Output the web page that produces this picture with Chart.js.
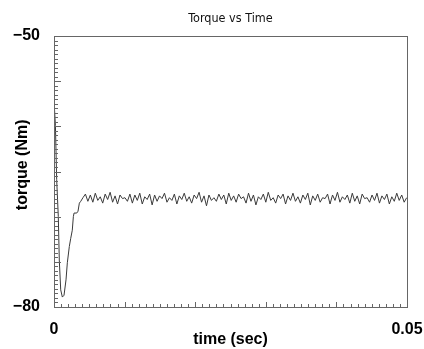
<!DOCTYPE html>
<html>
<head>
<meta charset="utf-8">
<script src="https://cdn.jsdelivr.net/npm/chart.js@4/dist/chart.umd.min.js"></script>
<style>
  body { margin: 0; background: #fff; }
  canvas { display: block; }
</style>
</head>
<body>
<canvas id="chart" width="424" height="349"></canvas>
<script>
// start-up transient (time in sec, torque in Nm)
const transientTime = [0, 0.00004, 0.0002, 0.00038, 0.00061, 0.00075, 0.00095, 0.00118, 0.00142, 0.0017,
  0.00189, 0.00217, 0.00237, 0.00259, 0.00274, 0.00284, 0.00322, 0.0034, 0.00359, 0.00379];
const transientTorque = [-57.1, -57.1, -59.9, -65.9, -70.0, -74.8, -78.1, -78.9, -78.7, -77.0,
  -75.1, -73.3, -72.4, -71.5, -70.0, -69.6, -69.6, -69.4, -68.5, -68.3];

// steady-state ripple, sampled every sampleStep seconds from noiseStart
const noiseStart = 0.0041;
const sampleStep = 0.00035;
const noiseTorque = [
  -67.9, -67.5, -68.3, -67.6, -68.4, -67.4, -68.2, -67.8, -68.5, -67.5, -68.1, -67.3, -68.4, -67.7, -68.6, -67.6, -68.0, -67.9, -68.3, -67.5,
  -68.5, -67.6, -68.2, -67.4, -68.6, -67.8, -68.1, -67.5, -68.7, -67.6, -68.3, -67.7, -68.0, -67.4, -68.4, -67.9, -68.2, -67.5, -68.6, -67.7,
  -68.1, -67.4, -68.3, -67.8, -68.5, -67.6, -68.0, -67.3, -68.4, -67.7, -68.8, -67.6, -68.2, -67.9, -68.3, -67.5, -68.1, -67.6, -68.6, -67.4,
  -68.2, -67.7, -68.4, -67.5, -68.0, -67.8, -68.5, -67.4, -68.3, -67.6, -68.7, -67.8, -68.1, -67.5, -68.4, -67.3, -68.2, -67.9, -68.5, -67.6,
  -68.0, -67.5, -68.6, -67.7, -68.2, -67.4, -68.3, -67.8, -68.5, -67.6, -68.1, -67.4, -68.7, -67.7, -68.2, -67.5, -68.4, -67.9, -68.0, -67.5,
  -68.6, -67.6, -68.2, -67.3, -68.4, -67.8, -68.1, -67.6, -68.5, -67.4, -68.3, -67.7, -68.6, -67.5, -68.0, -67.9, -68.4, -67.6, -68.2, -67.4,
  -68.5, -67.7, -68.1, -67.5, -68.6, -67.8, -68.3, -67.4, -68.2, -67.6, -68.4, -67.9
];

// axis labels
const xTickValues = [0, 0.05];
const xTickLabels = ["0", "0.05"];
const yTickValues = [-80, -50];
const yTickLabels = ["\u221280", "\u221250"];

const points = transientTime.map((t, i) => ({ x: t, y: transientTorque[i] }));
noiseTorque.forEach((v, i) => points.push({ x: noiseStart + i * sampleStep, y: v }));

Chart.defaults.font.family = "'Liberation Sans', Arial, sans-serif";
Chart.defaults.color = "#000";

// frame plus the small inward tick marks
const frameTicks = {
  id: "frameTicks",
  afterDraw(chart) {
    const { ctx, chartArea: a } = chart;
    const xs = chart.scales.x, ys = chart.scales.y;
    ctx.save();
    ctx.strokeStyle = "#666";
    ctx.lineWidth = 1;
    ctx.strokeRect(Math.round(a.left) + 0.5, Math.round(a.top) + 0.5,
      Math.round(a.right - a.left), Math.round(a.bottom - a.top));
    ctx.beginPath();
    for (let i = 0; i <= 50; i++) {
      const px = Math.round(xs.getPixelForValue(i * 0.001)) + 0.5;
      const len = i % 10 === 0 ? 5 : 3;
      ctx.moveTo(px, a.bottom);
      ctx.lineTo(px, a.bottom - len);
    }
    for (let i = 0; i <= 60; i++) {
      const py = Math.round(ys.getPixelForValue(-80 + i * 0.5)) + 0.5;
      const len = i % 10 === 0 ? 7 : 4;
      ctx.moveTo(a.left, py);
      ctx.lineTo(a.left + len, py);
    }
    ctx.stroke();
    ctx.restore();
  }
};

new Chart(document.getElementById("chart"), {
  type: "line",
  data: {
    datasets: [{
      data: points,
      borderColor: "#3a3a3a",
      borderWidth: 1,
      pointRadius: 0,
      tension: 0
    }]
  },
  options: {
    responsive: false,
    animation: false,
    layout: { padding: { left: 0, right: 17, top: 0, bottom: 0 } },
    plugins: { legend: { display: false }, tooltip: { enabled: false } },
    scales: {
      x: {
        type: "linear",
        min: 0,
        max: 0.05,
        grid: { display: false },
        border: { display: false },
        afterBuildTicks: s => { s.ticks = xTickValues.map(v => ({ value: v })); },
        afterFit: s => { s.height = 42; s.paddingRight = 0; s.paddingLeft = 0; },
        ticks: {
          padding: 5,
          maxRotation: 0,
          autoSkip: false,
          font: { size: 16, weight: "bold" },
          callback: v => xTickLabels[xTickValues.indexOf(v)]
        },
        title: {
          display: true,
          text: "time (sec)",
          font: { size: 16, weight: "bold" },
          padding: { top: 0, bottom: 0 }
        }
      },
      xTop: {
        type: "linear",
        position: "top",
        min: 0,
        max: 0.05,
        grid: { display: false, drawTicks: false },
        border: { display: false },
        ticks: { display: false },
        title: {
          display: true,
          text: "Torque vs Time",
          color: "#111",
          font: { family: "'DejaVu Sans Condensed', 'DejaVu Sans', sans-serif", size: 12.5, weight: "normal" },
          padding: { top: 11, bottom: 10 }
        }
      },
      y: {
        type: "linear",
        min: -80,
        max: -50,
        grid: { display: false, drawTicks: false },
        border: { display: false },
        afterBuildTicks: s => { s.ticks = yTickValues.map(v => ({ value: v })); },
        afterFit: s => { s.width = 54; },
        ticks: {
          padding: 14,
          autoSkip: false,
          font: { size: 16, weight: "bold" },
          callback: v => yTickLabels[yTickValues.indexOf(v)]
        },
        title: {
          display: true,
          text: "   torque (Nm)",
          font: { size: 16, weight: "bold" },
          padding: { top: 13, bottom: 0 }
        }
      }
    }
  },
  plugins: [frameTicks]
});
</script>
</body>
</html>
